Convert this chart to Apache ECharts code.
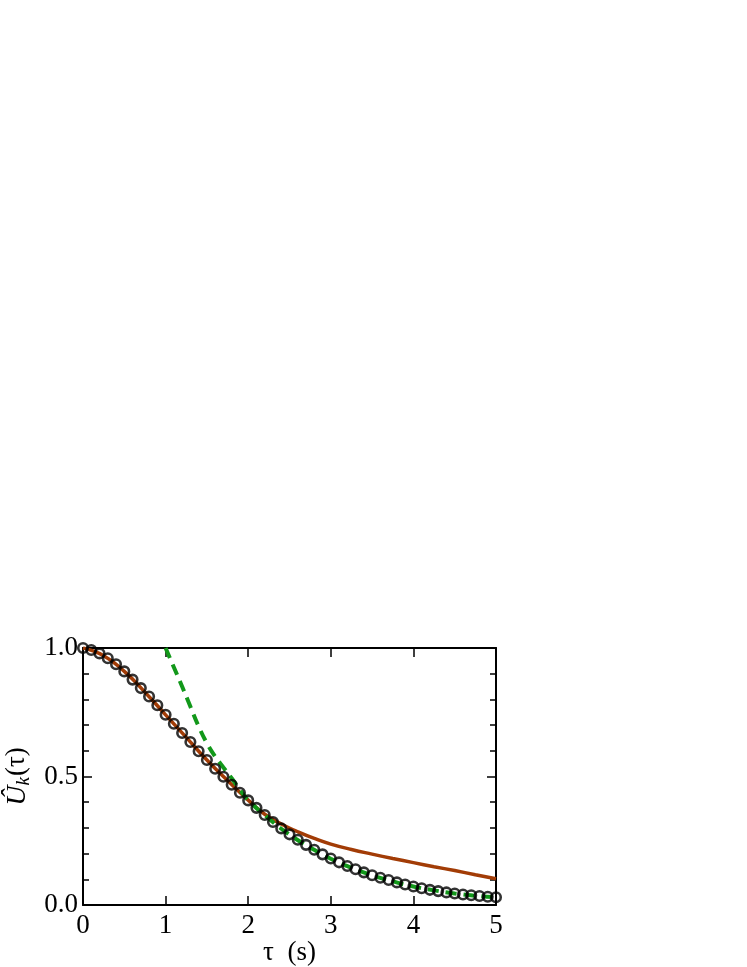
<!DOCTYPE html>
<html>
<head>
<meta charset="utf-8">
<script src="https://cdn.jsdelivr.net/npm/echarts@6/dist/echarts.min.js"></script>
<style>
html,body{margin:0;padding:0;background:#fff;}
#chart{width:747px;height:967px;}
</style>
</head>
<body>
<div id="chart"></div>
<script>
// Data
var tauCircles = [0.0,0.1,0.2,0.3,0.4,0.5,0.6,0.7,0.8,0.9,1.0,1.1,1.2,1.3,1.4,1.5,1.6,1.7,1.8,1.9,2.0,2.1,2.2,2.3,2.4,2.5,2.6,2.7,2.8,2.9,3.0,3.1,3.2,3.3,3.4,3.5,3.6,3.7,3.8,3.9,4.0,4.1,4.2,4.3,4.4,4.5,4.6,4.7,4.8,4.9,5.0];
var uCircles = [1.000,0.992,0.979,0.960,0.937,0.909,0.877,0.844,0.811,0.777,0.740,0.705,0.669,0.634,0.598,0.564,0.530,0.499,0.468,0.437,0.407,0.378,0.350,0.323,0.298,0.275,0.254,0.234,0.215,0.197,0.181,0.166,0.152,0.139,0.127,0.116,0.106,0.097,0.088,0.080,0.072,0.065,0.059,0.054,0.049,0.045,0.041,0.038,0.035,0.032,0.030];

var tauBrown = [0,0.25,0.5,0.75,1.0,1.25,1.5,1.75,2.0,2.2,2.4,2.6,2.8,3.0,3.25,3.5,3.75,4.0,4.25,4.5,4.75,5.0];
var uBrown = [1.000,0.970,0.909,0.828,0.740,0.652,0.564,0.484,0.408,0.353,0.315,0.285,0.259,0.237,0.216,0.198,0.181,0.165,0.149,0.134,0.118,0.102];

var tauGreen = [1.0,1.1,1.2,1.3,1.4,1.5,1.6,1.7,1.8,1.9,2.0,2.25,2.5,2.75,3.0,3.25,3.5,3.75,4.0,4.25,4.5,4.75,5.0];
var uGreen = [1.000,0.925,0.850,0.772,0.695,0.630,0.578,0.535,0.493,0.448,0.408,0.336,0.274,0.224,0.180,0.145,0.116,0.092,0.072,0.057,0.045,0.036,0.030];

var xTicks = [0,1,2,3,4,5];
var yTicks = [0.0,0.5,1.0];

function zip(a,b){var r=[];for(var i=0;i<a.length;i++){r.push([a[i],b[i]]);}return r;}

var FONT = '"Liberation Serif","Times New Roman",serif';
var chart = echarts.init(document.getElementById('chart'), null, {renderer:'canvas'});

var axisLine = {show:true, onZero:false, lineStyle:{color:'#000', width:2}};
var baseX = {
  type:'value', min:xTicks[0], max:xTicks[xTicks.length-1], interval:1,
  axisLine:axisLine, splitLine:{show:false},
  axisTick:{show:true, inside:true, length:9, lineStyle:{color:'#000', width:1.5}}
};
var baseY = {
  type:'value', min:yTicks[0], max:yTicks[yTicks.length-1], interval:0.5,
  axisLine:axisLine, splitLine:{show:false},
  axisTick:{show:true, inside:true, length:9, lineStyle:{color:'#000', width:1.5}},
  minorTick:{show:true, splitNumber:5, length:6, lineStyle:{color:'#000', width:1.5}},
  minorSplitLine:{show:false}
};

chart.setOption({
  animation:false,
  backgroundColor:'#fff',
  grid:{left:83, top:648, width:413, height:257, containLabel:false, outerBoundsMode:'none'},
  xAxis:[
    Object.assign({}, baseX, {
      position:'bottom',
      axisLabel:{show:true, color:'#000', fontFamily:FONT, fontSize:27, margin:7,
        formatter:function(v){return String(v);}},
      name:'τ  (s)', nameLocation:'middle', nameGap:31,
      nameTextStyle:{color:'#000', fontFamily:FONT, fontSize:27}
    }),
    Object.assign({}, baseX, {position:'top', axisLabel:{show:false}})
  ],
  yAxis:[
    Object.assign({}, baseY, {
      position:'left',
      axisLabel:{show:true, color:'#000', fontFamily:FONT, fontSize:27, margin:5,
        formatter:function(v){return v.toFixed(1);}},
      name:'{u|Û}{k|k}{p|(τ)}', nameLocation:'middle', nameGap:48, nameRotate:90,
      nameTextStyle:{color:'#000', fontFamily:FONT, fontSize:28,
        rich:{
          u:{fontFamily:FONT, fontSize:28, fontStyle:'italic', color:'#000', lineHeight:32, verticalAlign:'middle'},
          k:{fontFamily:FONT, fontSize:19, fontStyle:'italic', color:'#000', lineHeight:19, verticalAlign:'bottom', padding:[0,1,0,0]},
          p:{fontFamily:FONT, fontSize:27, color:'#000', lineHeight:32, verticalAlign:'middle'}
        }}
    }),
    Object.assign({}, baseY, {position:'right', axisLabel:{show:false}})
  ],
  series:[
    {
      type:'line', name:'brown', data:zip(tauBrown,uBrown), smooth:true,
      showSymbol:false, symbol:'none', xAxisIndex:0, yAxisIndex:0,
      lineStyle:{color:'#a23c06', width:3.5}, z:2
    },
    {
      type:'line', name:'green', data:zip(tauGreen,uGreen), smooth:true,
      showSymbol:false, symbol:'none', xAxisIndex:0, yAxisIndex:0,
      lineStyle:{color:'#12981a', width:4, type:[11,7]}, z:3
    },
    {
      type:'scatter', name:'data', data:zip(tauCircles,uCircles),
      symbol:'circle', symbolSize:9.5, xAxisIndex:0, yAxisIndex:0,
      itemStyle:{color:'rgba(0,0,0,0)', borderColor:'#000', borderWidth:2.6}, z:4
    }
  ]
});
</script>
</body>
</html>
